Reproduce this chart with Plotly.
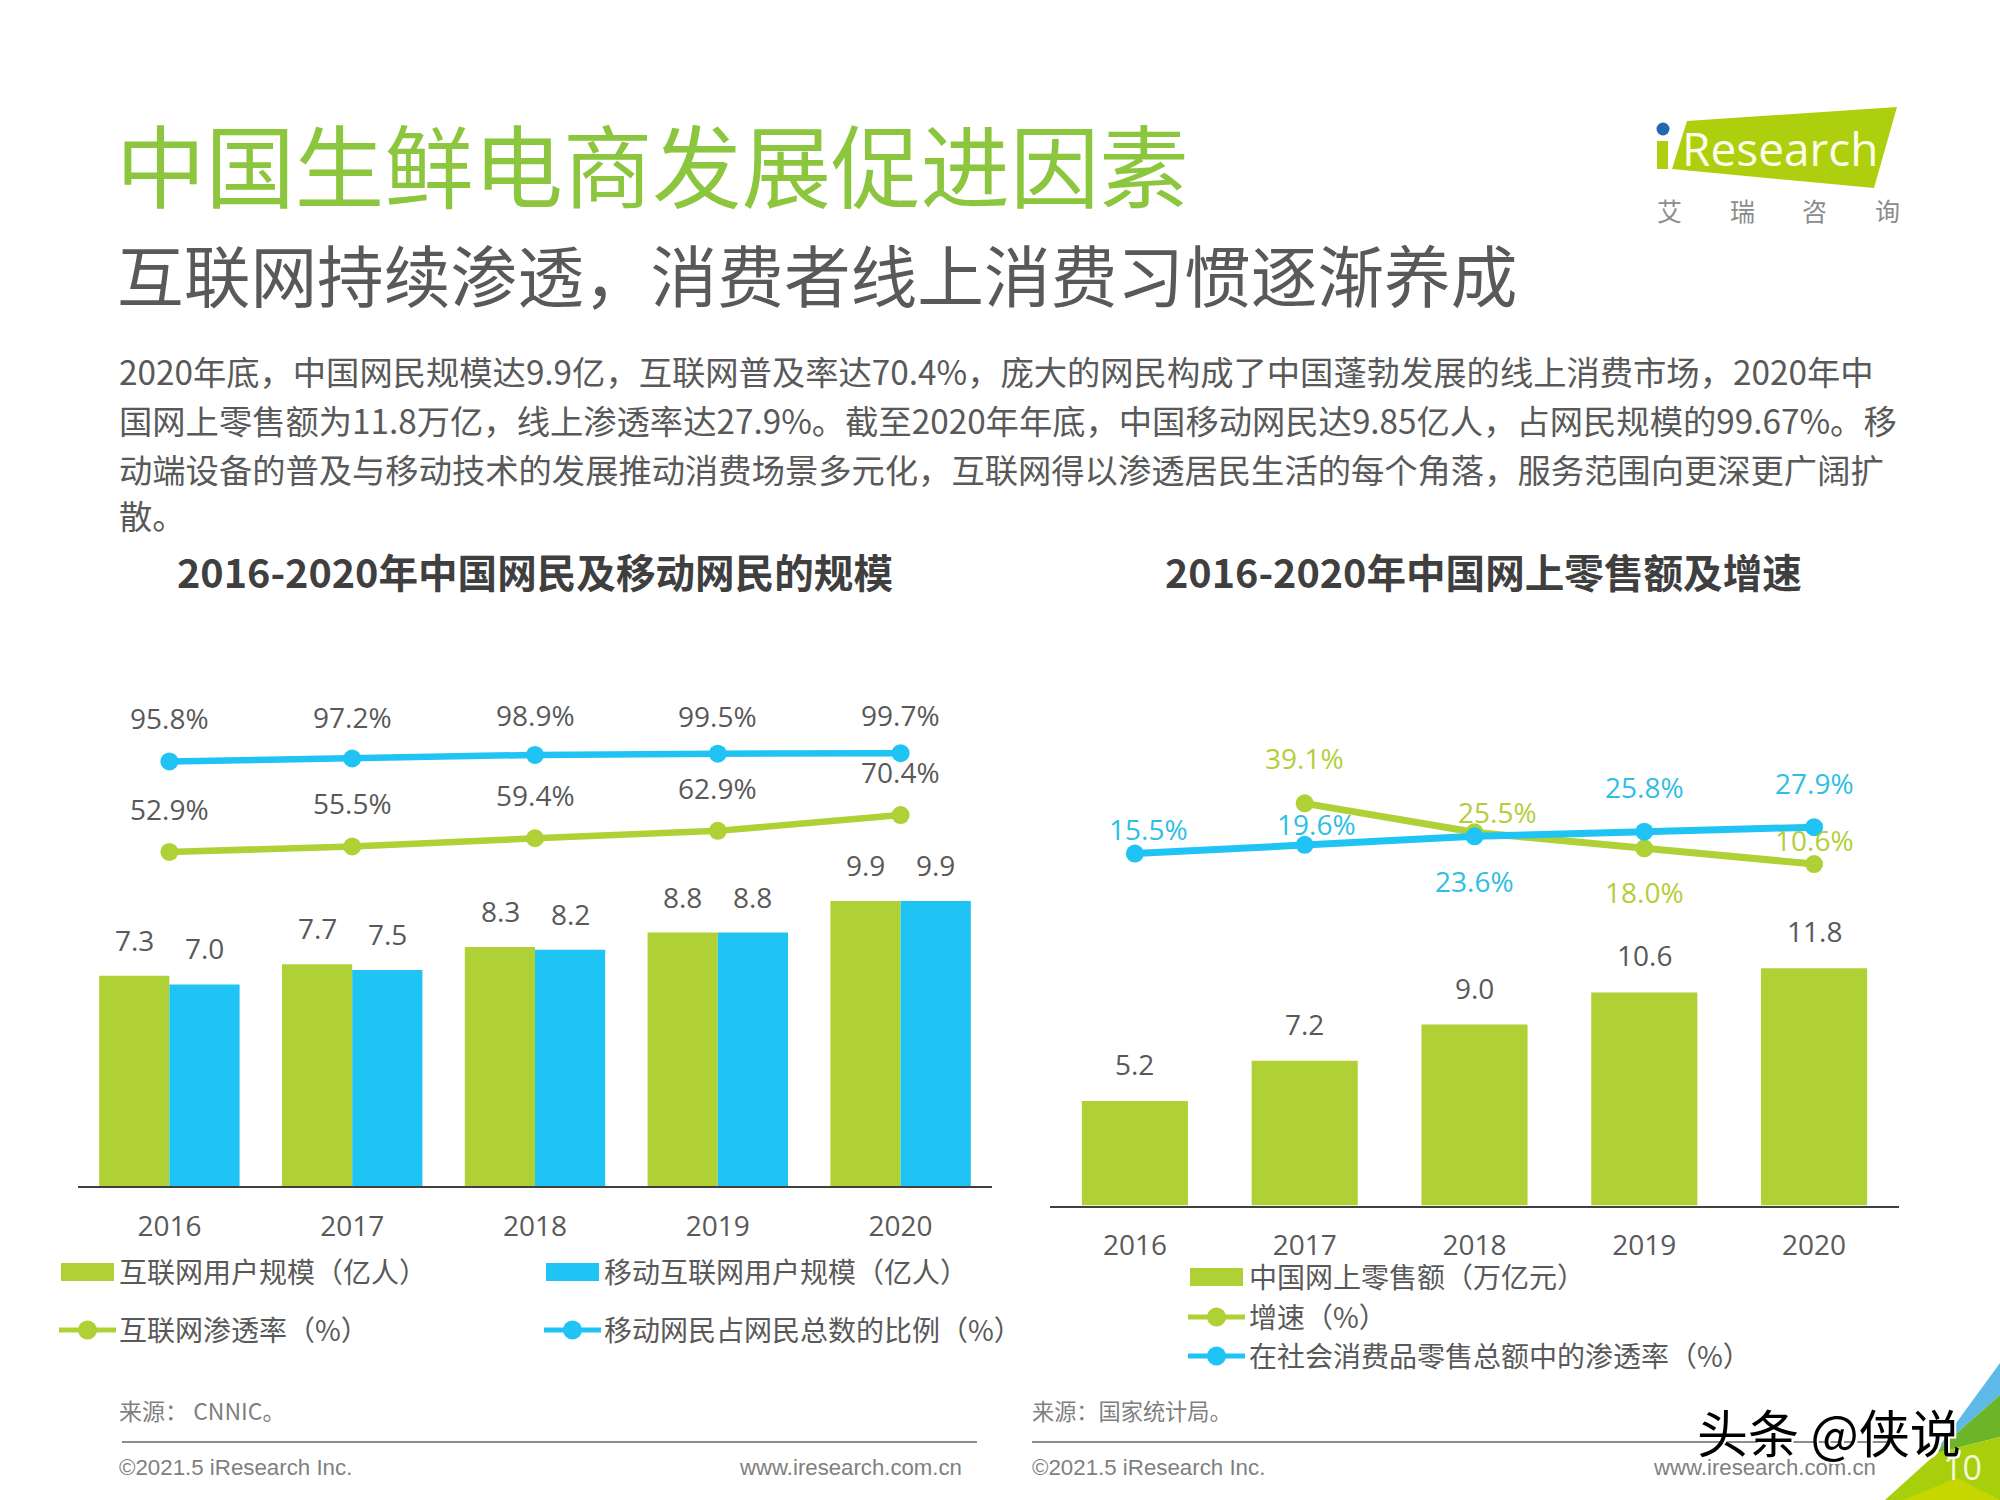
import plotly.graph_objects as go

W, H = 2000, 1500
FONT = '"Open Sans","Noto Sans CJK SC",sans-serif'
CJK = '"Noto Sans CJK SC","Open Sans",sans-serif'
ARIAL = '"Liberation Sans",Arial,sans-serif'
GREEN, BLUE = '#AFD135', '#1FC4F4'
GREEN_T, BLUE_T = '#B3CE3A', '#2FBEE4'
DARK = '#595959'
CM, LP, RP, COLON = '\uff0c', '\uff08', '\uff09', '\uff1a'

# ---- data ----
years = ['2016', '2017', '2018', '2019', '2020']
net_users = [7.3, 7.7, 8.3, 8.8, 9.9]
mobile_users = [7.0, 7.5, 8.2, 8.8, 9.9]
net_penetration = [52.9, 55.5, 59.4, 62.9, 70.4]
mobile_share = [95.8, 97.2, 98.9, 99.5, 99.7]
online_retail = [5.2, 7.2, 9.0, 10.6, 11.8]
retail_growth = [None, 39.1, 25.5, 18.0, 10.6]
retail_penetration = [15.5, 19.6, 23.6, 25.8, 27.9]

title_text = '中国生鲜电商发展促进因素'
subtitle_text = f'互联网持续渗透{CM}消费者线上消费习惯逐渐养成'
body_lines = [
    f'2020年底{CM}中国网民规模达9.9亿{CM}互联网普及率达70.4%{CM}庞大的网民构成了中国蓬勃发展的线上消费市场{CM}2020年中',
    f'国网上零售额为11.8万亿{CM}线上渗透率达27.9%。截至2020年年底{CM}中国移动网民达9.85亿人{CM}占网民规模的99.67%。移',
    f'动端设备的普及与移动技术的发展推动消费场景多元化{CM}互联网得以渗透居民生活的每个角落{CM}服务范围向更深更广阔扩',
    '散。',
]
left_title = '2016-2020年中国网民及移动网民的规模'
right_title = '2016-2020年中国网上零售额及增速'
names_left = [f'互联网用户规模{LP}亿人{RP}', f'移动互联网用户规模{LP}亿人{RP}',
              f'互联网渗透率{LP}%{RP}', f'移动网民占网民总数的比例{LP}%{RP}']
names_right = [f'中国网上零售额{LP}万亿元{RP}', f'增速{LP}%{RP}', f'在社会消费品零售总额中的渗透率{LP}%{RP}']

# ---- label offsets (px) ----
share_dy = [-43, -42, -40, -38, -38]
growth_dx = [0, 0, 23, 0, 0]
growth_dy = [0, -45, -20, 44, -24]
pen_dx = [14, 12, 0, 0, 0]
pen_dy = [-25, -21, 45, -45, -44]

fig = go.Figure()
fig.add_bar(x=years, y=net_users, name=names_left[0], marker_color=GREEN, marker_line_width=0, xaxis='x', yaxis='y', showlegend=False)
fig.add_bar(x=years, y=mobile_users, name=names_left[1], marker_color=BLUE, marker_line_width=0, xaxis='x', yaxis='y', showlegend=False)
line_style = dict(mode='lines+markers', marker_size=18, showlegend=False)
fig.add_scatter(x=years, y=net_penetration, name=names_left[2], line=dict(color=GREEN, width=6.5),
                marker_color=GREEN, xaxis='x', yaxis='y2', **line_style)
fig.add_scatter(x=years, y=mobile_share, name=names_left[3], line=dict(color=BLUE, width=6.5),
                marker_color=BLUE, xaxis='x', yaxis='y2', **line_style)
fig.add_bar(x=years, y=online_retail, name=names_right[0], marker_color=GREEN, marker_line_width=0, width=0.625,
            xaxis='x2', yaxis='y3', showlegend=False)
fig.add_scatter(x=years, y=retail_growth, name=names_right[1], line=dict(color=GREEN, width=7),
                marker_color=GREEN, xaxis='x2', yaxis='y4', **line_style)
fig.add_scatter(x=years, y=retail_penetration, name=names_right[2], line=dict(color=BLUE, width=7),
                marker_color=BLUE, xaxis='x2', yaxis='y4', **line_style)

ann, shapes = [], []


def px_x(x):
    return x / W


def px_y(y):
    return 1 - y / H


def text(x, y, s, size, color=DARK, family=CJK, anchor='left', **kw):
    font = dict(size=size, color=color, family=family)
    font.update(kw.pop('font_extra', {}))
    ann.append(dict(xref='paper', yref='paper', x=px_x(x), y=px_y(y), text=s, showarrow=False,
                    xanchor=anchor, yanchor='middle', font=font, borderpad=0, **kw))


def data_label(xa, ya, i, y, s, dx, dy, color=DARK, size=28):
    # category axes take the position index here: a numeric-looking year string would be read as an index
    ann.append(dict(xref=xa, yref=ya, x=i, y=y, text=s, showarrow=False, xanchor='center', yanchor='middle',
                    xshift=dx, yshift=-dy, font=dict(size=size, color=color, family=FONT), borderpad=0))


for i, yr in enumerate(years):
    data_label('x', 'y', i, net_users[i], f'{net_users[i]:.1f}', -35, -36)
    data_label('x', 'y', i, mobile_users[i], f'{mobile_users[i]:.1f}', 35, -36)
    data_label('x', 'y2', i, net_penetration[i], f'{net_penetration[i]:.1f}%', 0, -43)
    data_label('x', 'y2', i, mobile_share[i], f'{mobile_share[i]:.1f}%', 0, share_dy[i])
    data_label('x2', 'y3', i, online_retail[i], f'{online_retail[i]:.1f}', 0, -37)
    if retail_growth[i] is not None:
        data_label('x2', 'y4', i, retail_growth[i], f'{retail_growth[i]:.1f}%', growth_dx[i], growth_dy[i], GREEN_T)
    data_label('x2', 'y4', i, retail_penetration[i], f'{retail_penetration[i]:.1f}%', pen_dx[i], pen_dy[i], BLUE_T)

text(115, 162, title_text, 89.4, '#8CC63F')
text(116, 273, subtitle_text, 66.7, DARK)
for s, y in zip(body_lines, [371, 419, 468, 514]):
    text(118, y, s, 33.3, DARK)
text(535, 570, left_title, 39.6, '#3F3F3F', font_extra=dict(weight='bold'), anchor='center')
text(1483, 570, right_title, 39.6, '#3F3F3F', font_extra=dict(weight='bold'), anchor='center')


def rect(x0, y0, x1, y1, color):
    shapes.append(dict(type='rect', xref='paper', yref='paper', x0=px_x(x0), x1=px_x(x1), y0=px_y(y0), y1=px_y(y1),
                       fillcolor=color, line_width=0, layer='above'))


def hline(x0, x1, y, color, width):
    shapes.append(dict(type='line', xref='paper', yref='paper', x0=px_x(x0), x1=px_x(x1), y0=px_y(y), y1=px_y(y),
                       line=dict(color=color, width=width), layer='above'))


def dot(cx, cy, r, color):
    shapes.append(dict(type='circle', xref='paper', yref='paper', x0=px_x(cx - r), x1=px_x(cx + r),
                       y0=px_y(cy - r), y1=px_y(cy + r), fillcolor=color, line_width=0, layer='above'))


def poly(points, color):
    path = 'M' + 'L'.join(f'{px_x(a):.5f},{px_y(b):.5f}' for a, b in points) + 'Z'
    shapes.append(dict(type='path', xref='paper', yref='paper', path=path, fillcolor=color, line_width=0, layer='above'))


def bar_key(x, y, color):
    rect(x, y - 9, x + 53, y + 9, color)


def line_key(x, y, color):
    hline(x, x + 57, y, color, 5)
    dot(x + 28.5, y, 9.5, color)


# left legend
bar_key(61, 1272, GREEN)
text(118, 1271, names_left[0], 28)
bar_key(546, 1272, BLUE)
text(603, 1271, names_left[1], 28)
line_key(59, 1330, GREEN)
text(118, 1329, names_left[2], 28)
line_key(544, 1330, BLUE)
text(603, 1329, names_left[3], 28)
# right legend
bar_key(1190, 1277, GREEN)
text(1248, 1276, names_right[0], 28)
line_key(1188, 1317, GREEN)
text(1248, 1316, names_right[1], 28)
line_key(1188, 1356, BLUE)
text(1248, 1355, names_right[2], 28)

# footers
text(118, 1410, f'来源{COLON} CNNIC。', 23, '#7F7F7F')
text(1031, 1410, f'来源{COLON}国家统计局。', 22.2, '#7F7F7F')
hline(122, 977, 1442, '#8C8C8C', 2)
hline(1032, 1890, 1442, '#8C8C8C', 2)
text(118, 1467, '©2021.5 iResearch Inc.', 22.3, '#7F7F7F', ARIAL)
text(963, 1467, 'www.iresearch.com.cn', 22.2, '#7F7F7F', ARIAL, anchor='right')
text(1031, 1467, '©2021.5 iResearch Inc.', 22.3, '#7F7F7F', ARIAL)
text(1877, 1467, 'www.iresearch.com.cn', 22.2, '#7F7F7F', ARIAL, anchor='right')

# logo
poly([(1687, 121), (1897, 107), (1874, 188), (1672, 169)], '#AECF0E')
rect(1657, 141, 1668, 169, '#AECF0E')
dot(1663, 129, 6.5, '#2468B0')
text(1780, 148, 'Research', 46, '#FBFDE8', '"Open Sans",sans-serif', anchor='center')
for ch, x in zip('艾瑞咨询', [1669, 1742, 1814, 1887]):
    text(x, 210, ch, 25, '#8C8C8C', anchor='center')

# corner
poly([(2000, 1363), (2000, 1395), (1935, 1452)], '#5CB9E8')
poly([(2000, 1395), (2000, 1437), (1937, 1453), (1935, 1452)], '#6CB52B')
poly([(1885, 1500), (1937, 1453), (2000, 1437), (2000, 1500)], '#A8CF0B')
poly([(1903, 1500), (1957, 1478), (2000, 1500)], '#C6D600')
text(1962, 1467, '10', 34, '#F3F8D8', '"Open Sans",sans-serif', anchor='center')
# watermark
text(1829, 1431, '头条 @侠说', 51, '#000000', anchor='center', font_extra=dict(shadow='2px 2px 0 #ffffff'))

layout_axis = dict(showgrid=False, zeroline=False, showticklabels=False, showline=False, ticks='')
x_axis = dict(type='category', showgrid=False, zeroline=False, showline=True, linecolor='#404040', linewidth=2,
              ticks='', ticklabelstandoff=14, tickfont=dict(size=28, color=DARK, family=FONT), range=[-0.5, 4.5])
fig.update_layout(
    width=W, height=H, margin=dict(l=0, r=0, t=0, b=0), paper_bgcolor='white', plot_bgcolor='white',
    barmode='group', bargap=0.232, bargroupgap=0, showlegend=False, annotations=ann, shapes=shapes,
    font=dict(family=CJK),
    xaxis=dict(domain=[78 / W, 992 / W], anchor='y', **x_axis),
    xaxis2=dict(domain=[1050 / W, 1899 / W], anchor='y3', **x_axis),
    yaxis=dict(domain=[1 - 1186 / H, 1 - 680 / H], range=[0, 17.57], anchor='x', **layout_axis),
    yaxis2=dict(domain=[1 - 1186 / H, 1 - 680 / H], range=[-105.4, 134.4], anchor='x', overlaying='y', **layout_axis),
    yaxis3=dict(domain=[1 - 1205.5 / H, 1 - 680 / H], range=[0, 26.14], anchor='x2', **layout_axis),
    yaxis4=dict(domain=[1 - 1205.5 / H, 1 - 680 / H], range=[-149.7, 97], anchor='x2', overlaying='y3', **layout_axis),
)
fig.write_html('out.html', post_script="document.body.style.margin='0';", config={'displayModeBar': False})
